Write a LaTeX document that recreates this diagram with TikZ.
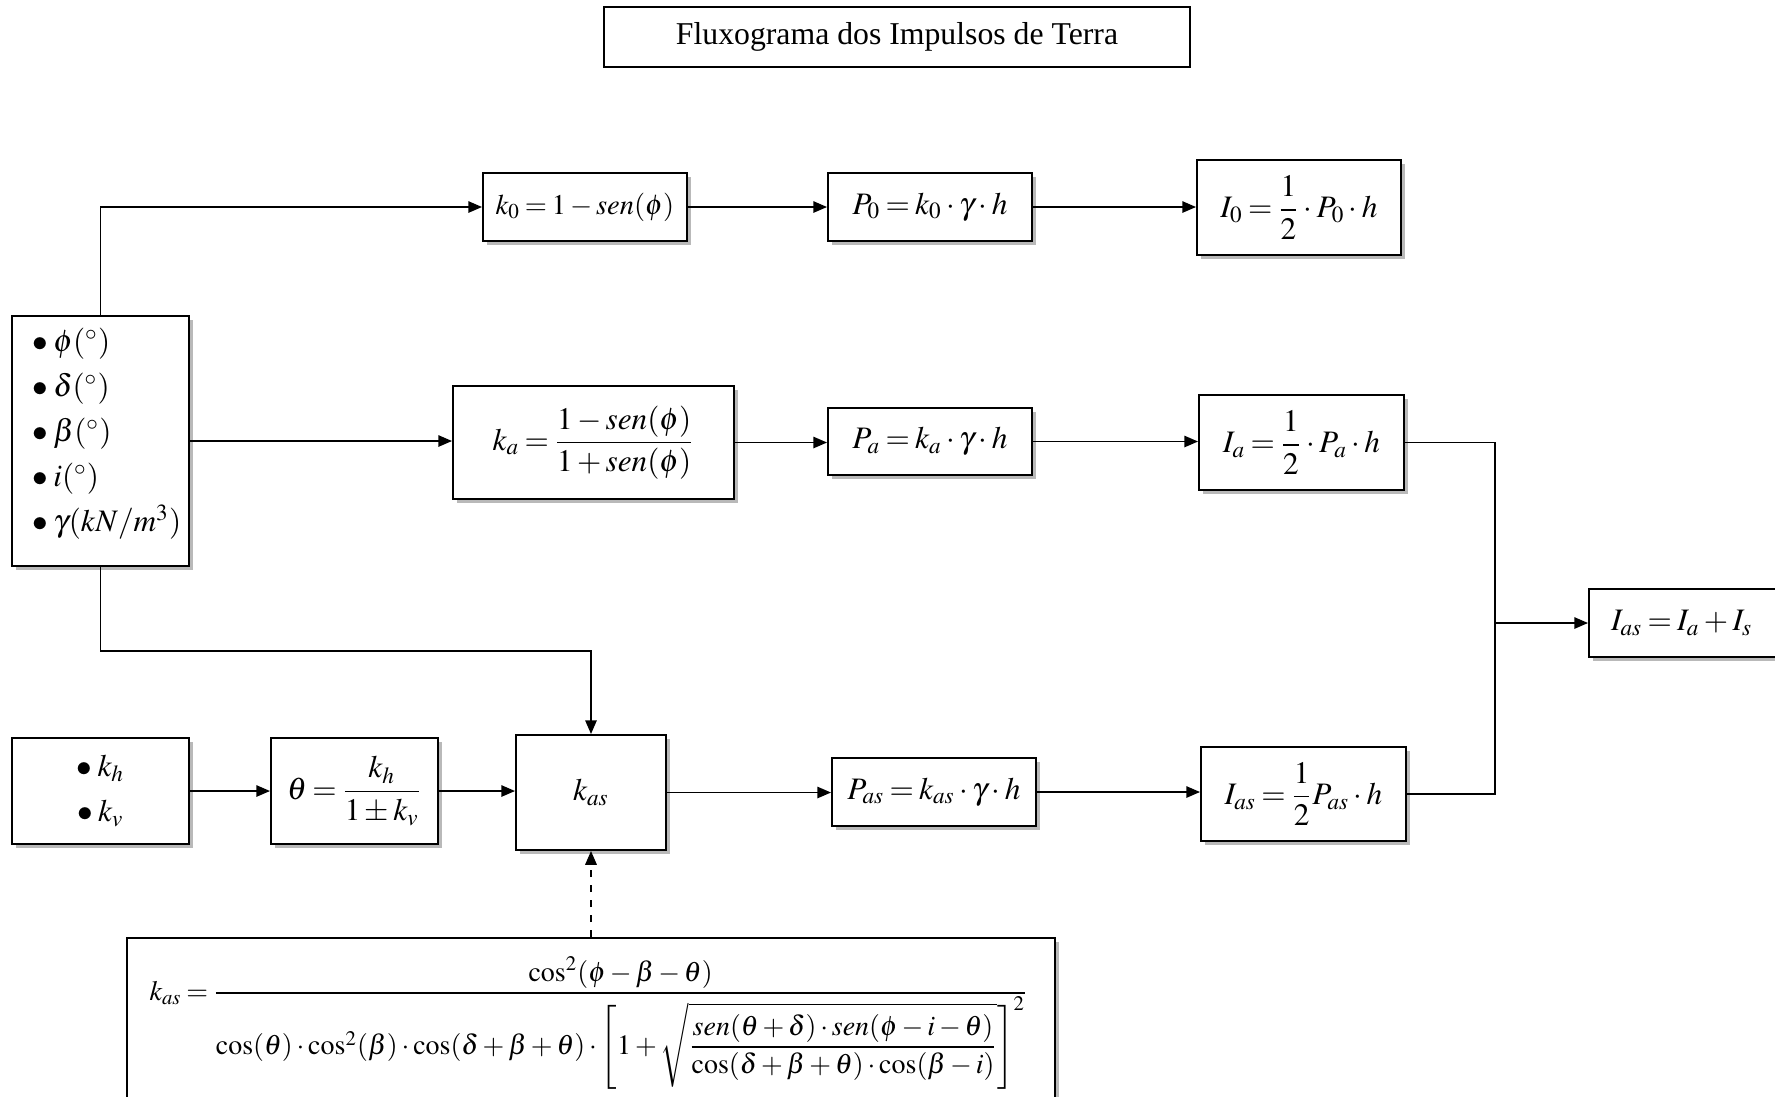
\documentclass[tikz,border=0pt]{standalone}
\usepackage{amsmath}
\usepackage{mathptmx}
\usepackage{fontspec}
\setmainfont{Liberation Serif}
\usetikzlibrary{arrows.meta,shadows}
\def\px{0.4pt}
\newcommand\blt{$\bullet$\,}
\tikzset{
  box/.style={draw, line width=0.8pt, fill=white, inner sep=0pt, align=center,
    drop shadow={shadow xshift=1.6pt, shadow yshift=-1.6pt, fill=black!50, opacity=0.55}},
  arr/.style={line width=0.6pt, -{Triangle[length=5.5pt,width=4.6pt]}},
  ln/.style={line width=0.6pt},
}
\begin{document}
\thickmuskip=3mu plus 2mu
\medmuskip=2.5mu plus 1mu minus 1mu
\begin{tikzpicture}[x=\px,y=-\px, every node/.style={font=\fontsize{12.5}{15}\selectfont}]
\useasboundingbox (0,0) rectangle (1775,1096);
% title
\node[draw, line width=0.6pt, minimum width=586*\px, minimum height=60*\px,
  font=\fontsize{12.7}{15}\selectfont] (title) at (897,37) {Fluxograma dos Impulsos de Terra};
% input box
\node[box, minimum width=177*\px, minimum height=250*\px] (in) at (100.5,441) {};
\node[anchor=west, align=left, inner sep=0pt, font=\fontsize{12.5}{18}\selectfont] (intext) at (32,434)
  {\blt$\phi(^\circ)$\\ \blt$\delta(^\circ)$\\ \blt$\beta(^\circ)$\\ \blt$i(^\circ)$\\ \blt$\gamma(kN/m^{3})$};
% row 0
\node[box, minimum width=204*\px, minimum height=68*\px, font=\fontsize{11.4}{14}\selectfont] (k0) at (585,207) {$k_0 = 1 - sen(\phi)$};
\node[box, minimum width=204*\px, minimum height=68*\px] (P0) at (930,207) {$P_0 = k_0\cdot\gamma\cdot h$};
\node[box, minimum width=204*\px, minimum height=95*\px] (I0) at (1299,207.5) {$I_0 = \dfrac{1}{2}\cdot P_0\cdot h$};
% row a
\node[box, minimum width=281*\px, minimum height=113*\px] (ka) at (593.5,442.5) {$k_a = \dfrac{1 - sen(\phi)}{1 + sen(\phi)}$};
\node[box, minimum width=204*\px, minimum height=67*\px] (Pa) at (930,441.5) {$P_a = k_a\cdot\gamma\cdot h$};
\node[box, minimum width=205*\px, minimum height=95*\px] (Ia) at (1301.5,442.5) {$I_a = \dfrac{1}{2}\cdot P_a\cdot h$};
% result
\node[box, anchor=west, minimum height=68*\px, text width=160*\px, inner xsep=22*\px, align=left] (res) at (1588,623) {$I_{as} = I_a + I_s$};
% row as
\node[box, minimum width=177*\px, minimum height=106*\px, font=\fontsize{12.5}{18}\selectfont] (kh) at (100.5,791) {\blt$k_h$\\ \blt$k_v$};
\node[box, minimum width=167*\px, minimum height=106*\px] (th) at (354.5,791) {$\theta = \dfrac{k_h}{1\pm k_v}$};
\node[box, minimum width=150*\px, minimum height=115*\px] (kas) at (591,792.5) {$k_{as}$};
\node[box, minimum width=204*\px, minimum height=68*\px] (Pas) at (934,792) {$P_{as} = k_{as}\cdot\gamma\cdot h$};
\node[box, minimum width=205*\px, minimum height=94*\px] (Ias) at (1303.5,794) {$I_{as} = \dfrac{1}{2}P_{as}\cdot h$};
% big formula
\node[box, minimum width=928*\px, minimum height=172*\px] (big) at (591,1024) {};
\node[inner sep=0pt, font=\fontsize{11.2}{13}\selectfont] (bigf) at (589,1023)
 {$\displaystyle k_{as} = \frac{\cos^{2}(\phi-\beta-\theta)}{\cos(\theta)\cdot\cos^{2}(\beta)\cdot\cos(\delta+\beta+\theta)\cdot\left[1+\sqrt{\dfrac{sen(\theta+\delta)\cdot sen(\phi-i-\theta)}{\cos(\delta+\beta+\theta)\cdot\cos(\beta-i)}}\right]^{2}}$};
% connectors
\draw[arr] (in.north) |- (k0.west);
\draw[arr] (in.east) -- (in.east -| ka.west);
\draw[arr] (in.south) -- ++(0,84) -| (kas.north);
\draw[arr] (k0.east) -- (P0.west);
\draw[arr] (P0.east) -- (P0.east -| I0.west);
\draw[arr] (ka.east) -- (ka.east -| Pa.west);
\draw[arr] (Pa.east) -- (Pa.east -| Ia.west);
\draw[arr] (kh.east) -- (th.west);
\draw[arr] (th.east) -- (th.east -| kas.west);
\draw[arr] (kas.east) -- (kas.east -| Pas.west);
\draw[arr] (Pas.east) -- (Pas.east -| Ias.west);
\coordinate (m) at (1495,623);
\draw[ln] (Ia.east) -| (m);
\draw[ln] (Ias.east) -| (m);
\draw[arr] (m) -- (res.west);
\draw[arr, dashed] (big.north) -- (kas.south);
\end{tikzpicture}
\end{document}
